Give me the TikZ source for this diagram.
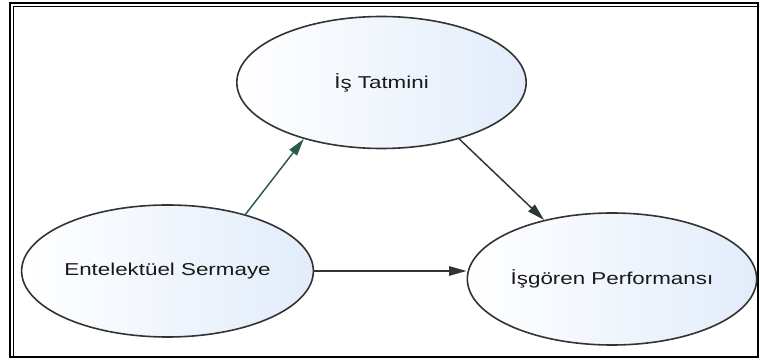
\documentclass[tikz,border=0pt]{standalone}
\usepackage{fontspec}
\newfontfamily\lblfont{Liberation Sans}[FakeStretch=1.3]
\usetikzlibrary{arrows.meta,shapes.geometric}

\definecolor{bubblefill}{RGB}{226,236,250}
\definecolor{linkteal}{RGB}{45,90,78}
\definecolor{linkdark}{RGB}{45,55,50}

\begin{document}
\begin{tikzpicture}[x=0.75pt, y=0.75pt,
        bubble/.style={ellipse, draw=black!80, line width=1.2pt, inner sep=0pt,
                minimum width=217pt, minimum height=99pt,
                left color=white, right color=bubblefill,
                font=\lblfont\fontsize{12.9}{15}\selectfont, text=black!90},
        link/.style={line width=1.1pt, -{Triangle[length=13pt, width=7pt]}}]
        \useasboundingbox (0, 0) rectangle (760, 360);
        % frame
        \draw[line width=1.8pt] (10, 3) rectangle (758, 357);
        \draw[line width=0.8pt] (13.5, 3) -- (13.5, 353.5) -- (758, 353.5);

        \node[bubble] (tat) at (381.5, 277.5) {İş Tatmini};
        \node[bubble] (ent) at (167.5, 89) {Entelektüel Sermaye};
        \node[bubble] (perf) at (612, 81) {İşgören Performansı};

        \draw[link, draw=linkteal, fill=black] (ent.36) -- (tat.216);
        \draw[link, draw=linkdark, fill=linkteal] (tat.-36) -- (perf.139);
        \draw[link, draw=black!80, fill=black] (ent.east) -- (ent.east -| perf.west);
\end{tikzpicture}
\end{document}
